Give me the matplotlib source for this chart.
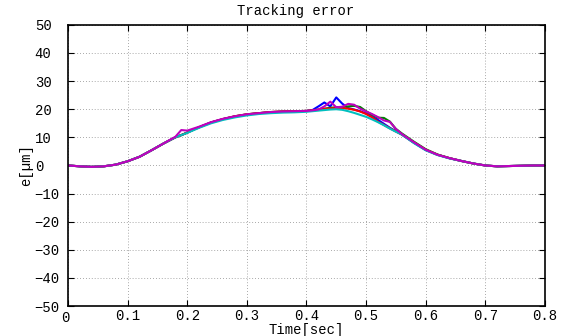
import numpy as np
import matplotlib
matplotlib.use('Agg')
import matplotlib.pyplot as plt
import matplotlib.transforms as mtransforms

# time axis [sec]
t = [0, .02, .04, .06, .08, .10, .12, .14, .16, .18, .19, .20, .21, .22,
     .24, .26, .28, .30, .32, .34, .36, .38, .40, .41, .42, .43, .44, .45,
     .46, .47, .48, .49, .50, .51, .52, .53, .54, .55, .56, .58, .60, .62,
     .64, .66, .68, .70, .72, .74, .76, .78, .80]

# tracking error of each run [um]
e_blue = [0, -0.3, -0.5, -0.3, 0.3, 1.5, 3.1, 5.4, 7.8, 10.0, 10.8, 11.7, 12.7, 13.6,
          15.3, 16.5, 17.4, 18.1, 18.6, 18.9, 19.1, 19.2, 19.4, 19.7, 21.0, 22.4, 21.0, 24.2,
          22.0, 20.4, 19.9, 19.3, 18.5, 17.4, 16.2, 14.8, 13.4, 12.2, 11.0, 8.1, 5.5, 3.8,
          2.6, 1.6, 0.7, 0.0, -0.3, -0.2, -0.1, 0.0, 0.0]
e_green = [0, -0.3, -0.5, -0.3, 0.3, 1.5, 3.1, 5.4, 7.8, 10.0, 10.8, 11.7, 12.7, 13.6,
           15.3, 16.5, 17.5, 18.2, 18.6, 19.0, 19.2, 19.3, 19.4, 19.6, 19.9, 20.2, 20.5, 20.7,
           20.8, 21.0, 21.2, 20.8, 19.3, 18.0, 17.0, 16.9, 15.6, 13.0, 11.4, 8.5, 5.8, 3.9,
           2.6, 1.6, 0.7, 0.0, -0.3, -0.2, -0.1, 0.0, 0.0]
e_red = [0, -0.3, -0.5, -0.3, 0.3, 1.5, 3.1, 5.4, 7.8, 10.0, 10.8, 11.7, 12.7, 13.6,
         15.3, 16.5, 17.5, 18.2, 18.6, 19.0, 19.2, 19.3, 19.4, 19.6, 19.8, 20.1, 20.3, 20.4,
         20.4, 20.2, 19.8, 19.2, 18.3, 17.1, 15.6, 14.4, 13.2, 12.1, 11.0, 8.2, 5.6, 3.8,
         2.6, 1.6, 0.7, 0.0, -0.3, -0.2, -0.1, 0.0, 0.0]
e_cyan = [0, -0.3, -0.5, -0.3, 0.3, 1.5, 3.1, 5.4, 7.8, 10.0, 10.8, 11.6, 12.5, 13.4,
          15.0, 16.2, 17.1, 17.8, 18.3, 18.6, 18.8, 18.9, 19.1, 19.3, 19.5, 19.7, 19.9, 20.0,
          19.8, 19.3, 18.7, 18.0, 17.3, 16.4, 15.4, 14.3, 13.1, 12.0, 11.0, 8.0, 5.4, 3.7,
          2.5, 1.6, 0.7, 0.0, -0.3, -0.2, -0.1, 0.0, 0.0]
e_magenta = [0, -0.3, -0.5, -0.3, 0.3, 1.5, 3.1, 5.4, 7.8, 10.2, 12.6, 12.4, 13.1, 13.8,
             15.4, 16.6, 17.5, 18.2, 18.6, 19.0, 19.2, 19.3, 19.4, 19.6, 19.9, 21.0, 22.7, 20.7,
             20.9, 21.9, 21.6, 20.2, 19.2, 18.3, 17.2, 16.0, 15.5, 13.0, 11.2, 8.3, 5.6, 3.8,
             2.6, 1.6, 0.7, 0.0, -0.3, -0.2, -0.1, 0.0, 0.0]

xticks = [0, 0.1, 0.2, 0.3, 0.4, 0.5, 0.6, 0.7, 0.8]
xticklabels = ['0', '0.1', '0.2', '0.3', '0.4', '0.5', '0.6', '0.7', '0.8']
yticks = [-50, -40, -30, -20, -10, 0, 10, 20, 30, 40, 50]

plt.rcParams['font.family'] = ['Liberation Mono', 'DejaVu Sans Mono']
plt.rcParams['font.size'] = 10

fig = plt.figure(figsize=(5.67, 3.36), dpi=100)
ax = fig.add_axes([0.12, 0.089, 0.841, 0.837])

for e, c in [(e_blue, 'b'), (e_green, 'g'), (e_red, 'r'), (e_cyan, 'c'), (e_magenta, 'm')]:
    ax.plot(t, e, color=c, lw=1.5)

ax.set_xlim(0, 0.8)
ax.set_ylim(-50, 50)
ax.set_xticks(xticks)
ax.set_xticklabels(xticklabels)
ax.set_yticks(yticks)
ax.grid(True, linestyle=(0, (1, 2.5)), color='0.55', lw=0.6)
ax.tick_params(direction='in', top=True, right=True, length=4)
ax.tick_params(axis='x', pad=2)
ax.tick_params(axis='y', pad=24)
for lab in ax.get_yticklabels():
    lab.set_ha('left')
# the "0" under the origin sits a little left and low
x0 = ax.get_xticklabels()[0]
x0.set_transform(x0.get_transform()
                 + mtransforms.ScaledTranslation(-0.03, -0.02, fig.dpi_scale_trans))
for s in ax.spines.values():
    s.set_linewidth(1.2)

ax.set_title('Tracking error', fontsize=10, pad=7, x=0.477)
ax.set_xlabel('Time[sec]')
ax.xaxis.set_label_coords(0.5, -0.06)
ax.set_ylabel('e[µm]', labelpad=1)

fig.savefig('out.png', dpi=100)
